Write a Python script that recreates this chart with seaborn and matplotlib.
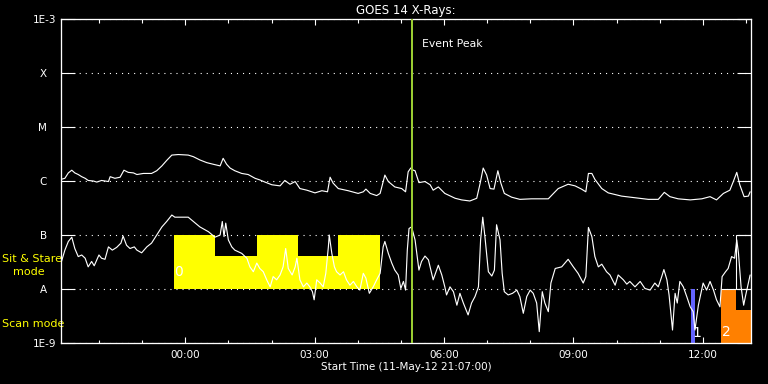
import numpy as np
import pandas as pd
import matplotlib
matplotlib.use("Agg")
import matplotlib.pyplot as plt
import seaborn as sns
from matplotlib.ticker import FixedLocator, NullLocator
from matplotlib.transforms import ScaledTranslation, blended_transform_factory

# ---------------- data ----------------
title = "GOES 14 X-Rays:"
xlabel = "Start Time (11-May-12 21:07:00)"
start_hour, start_minute = 21, 7
span_hours = 16.0

class_exponents = [-9, -8, -7, -6, -5, -4, -3]
class_labels = ["1E-9", "A", "B", "C", "M", "X", "1E-3"]

# long channel (upper curve): hours since start, log10 flux
long_t = [0.00, 0.09, 0.17, 0.25, 0.32, 0.40, 0.48, 0.56, 0.63, 0.75,
          0.83, 0.94, 1.10, 1.14, 1.25, 1.37, 1.46, 1.56, 1.68, 1.76,
          1.91, 2.10, 2.22, 2.34, 2.45, 2.57, 2.72, 2.95, 3.07, 3.22,
          3.38, 3.53, 3.69, 3.76, 3.84, 3.92, 4.03, 4.19, 4.34, 4.50,
          4.61, 4.73, 4.89, 5.08, 5.19, 5.31, 5.43, 5.54, 5.70, 5.89,
          6.05, 6.18, 6.24, 6.31, 6.43, 6.66, 6.89, 7.01, 7.07, 7.17,
          7.32, 7.40, 7.51, 7.59, 7.74, 7.90, 7.99, 8.05, 8.11, 8.17,
          8.21, 8.30, 8.44, 8.56, 8.63, 8.75, 8.90, 9.14, 9.29, 9.48,
          9.64, 9.72, 9.79, 9.87, 9.95, 10.04, 10.13, 10.20, 10.28, 10.45,
          10.64, 10.91, 11.11, 11.30, 11.42, 11.53, 11.76, 11.92, 12.07, 12.17,
          12.23, 12.31, 12.38, 12.54, 12.69, 13.00, 13.31, 13.62, 13.85, 13.99,
          14.12, 14.31, 14.59, 14.86, 15.05, 15.20, 15.36, 15.51, 15.59, 15.67,
          15.74, 15.84, 15.94, 15.98]
long_log = [-5.97, -5.95, -5.85, -5.80, -5.85, -5.88, -5.92, -5.95, -5.99, -6.00,
            -6.02, -5.99, -6.01, -5.92, -5.95, -5.93, -5.80, -5.84, -5.85, -5.88,
            -5.86, -5.86, -5.81, -5.72, -5.62, -5.52, -5.51, -5.52, -5.55, -5.61,
            -5.66, -5.69, -5.72, -5.58, -5.69, -5.76, -5.81, -5.86, -5.88, -5.95,
            -5.98, -6.02, -6.07, -6.09, -5.99, -6.06, -6.01, -6.14, -6.17, -6.22,
            -6.18, -6.20, -5.93, -6.04, -6.14, -6.18, -6.23, -6.20, -6.15, -6.23,
            -6.27, -6.23, -5.89, -6.01, -6.11, -6.14, -6.20, -5.83, -5.76, -5.80,
            -5.81, -6.03, -6.01, -6.07, -6.17, -6.11, -6.23, -6.32, -6.35, -6.37,
            -6.32, -6.04, -5.76, -5.89, -6.14, -6.15, -5.81, -6.04, -6.23, -6.30,
            -6.34, -6.33, -6.33, -6.33, -6.23, -6.14, -6.06, -6.09, -6.15, -6.20,
            -5.86, -5.86, -5.97, -6.14, -6.22, -6.28, -6.31, -6.34, -6.34, -6.21,
            -6.29, -6.33, -6.35, -6.33, -6.29, -6.35, -6.23, -6.17, -6.01, -5.84,
            -6.07, -6.29, -6.28, -6.20]

# short channel (lower curve)
short_t = [0.00, 0.09, 0.17, 0.25, 0.32, 0.40, 0.48, 0.56, 0.63, 0.71,
           0.77, 0.83, 0.88, 0.94, 1.02, 1.10, 1.19, 1.29, 1.39, 1.44,
           1.52, 1.60, 1.70, 1.76, 1.87, 1.99, 2.10, 2.22, 2.34, 2.45,
           2.57, 2.64, 2.95, 3.07, 3.22, 3.42, 3.57, 3.69, 3.74, 3.78,
           3.82, 3.88, 3.96, 4.03, 4.19, 4.31, 4.38, 4.46, 4.54, 4.61,
           4.69, 4.77, 4.85, 4.92, 5.00, 5.08, 5.15, 5.21, 5.27, 5.36,
           5.43, 5.47, 5.54, 5.62, 5.70, 5.77, 5.83, 5.87, 5.93, 6.01,
           6.08, 6.14, 6.20, 6.22, 6.28, 6.34, 6.39, 6.47, 6.55, 6.62,
           6.70, 6.78, 6.86, 6.93, 7.01, 7.07, 7.15, 7.24, 7.32, 7.40,
           7.47, 7.51, 7.59, 7.67, 7.74, 7.82, 7.88, 7.94, 7.99, 8.03,
           8.07, 8.13, 8.21, 8.30, 8.36, 8.44, 8.52, 8.63, 8.75, 8.83,
           8.90, 8.94, 9.02, 9.10, 9.18, 9.25, 9.33, 9.44, 9.52, 9.60,
           9.68, 9.73, 9.78, 9.83, 9.91, 9.99, 10.05, 10.10, 10.18, 10.23,
           10.28, 10.37, 10.47, 10.57, 10.64, 10.72, 10.80, 10.88, 10.95, 11.03,
           11.09, 11.16, 11.22, 11.30, 11.36, 11.46, 11.61, 11.76, 11.88, 11.99,
           12.11, 12.17, 12.23, 12.31, 12.38, 12.46, 12.54, 12.65, 12.73, 12.85,
           12.92, 13.04, 13.12, 13.19, 13.31, 13.43, 13.54, 13.66, 13.77, 13.85,
           13.93, 13.98, 14.05, 14.10, 14.18, 14.24, 14.29, 14.35, 14.43, 14.51,
           14.59, 14.66, 14.70, 14.78, 14.84, 14.89, 14.97, 15.05, 15.13, 15.20,
           15.28, 15.33, 15.41, 15.47, 15.55, 15.62, 15.67, 15.71, 15.77, 15.83,
           15.87, 15.94, 15.98]
short_log = [-7.52, -7.28, -7.12, -7.04, -7.25, -7.40, -7.37, -7.43, -7.59, -7.49,
             -7.57, -7.46, -7.37, -7.43, -7.45, -7.22, -7.28, -7.23, -7.15, -7.02,
             -7.19, -7.25, -7.22, -7.28, -7.33, -7.22, -7.15, -7.00, -6.85, -6.75,
             -6.63, -6.67, -6.67, -6.75, -6.85, -6.94, -7.04, -7.00, -6.75, -7.03,
             -6.78, -7.09, -7.22, -7.28, -7.34, -7.43, -7.59, -7.68, -7.52, -7.62,
             -7.68, -7.83, -7.96, -7.77, -7.83, -7.74, -7.59, -7.25, -7.62, -7.74,
             -7.59, -7.43, -7.83, -7.96, -7.89, -7.96, -8.05, -8.20, -7.83, -7.89,
             -7.96, -7.71, -7.22, -7.00, -7.34, -7.59, -7.68, -7.74, -7.68, -7.83,
             -7.93, -7.86, -7.96, -8.02, -7.71, -7.80, -8.08, -7.96, -7.83, -7.71,
             -7.22, -7.12, -7.34, -7.52, -7.65, -7.74, -7.99, -7.86, -8.02, -7.28,
             -6.88, -6.85, -7.09, -7.65, -7.49, -7.39, -7.46, -7.83, -7.56, -7.74,
             -7.96, -8.11, -7.96, -8.05, -8.30, -8.08, -8.26, -8.48, -8.26, -8.14,
             -7.96, -7.09, -6.67, -7.03, -7.68, -7.76, -7.65, -6.81, -7.09, -7.71,
             -8.05, -8.11, -8.08, -8.02, -8.14, -8.45, -8.14, -8.02, -8.08, -8.26,
             -8.79, -8.05, -8.26, -8.42, -7.89, -7.62, -7.59, -7.45, -7.59, -7.71,
             -7.89, -7.77, -6.86, -7.03, -7.40, -7.59, -7.54, -7.68, -7.74, -7.93,
             -7.74, -7.83, -7.91, -7.86, -7.96, -7.86, -7.99, -8.02, -7.89, -7.96,
             -7.77, -7.64, -7.83, -8.11, -8.76, -8.08, -8.26, -7.86, -7.96, -8.14,
             -8.33, -8.42, -8.76, -8.30, -8.08, -7.89, -8.02, -7.86, -8.02, -8.20,
             -8.33, -7.77, -7.68, -7.62, -7.40, -7.43, -7.09, -7.34, -7.96, -8.30,
             -8.14, -7.89, -7.74]

# observing-mode blocks (hours since start, log10 level)
sit_start = [2.62, 3.57, 4.54, 5.50, 6.42]
sit_end = [3.57, 4.54, 5.50, 6.42, 7.40]
sit_top = [-7.0, -7.38, -7.0, -7.38, -7.0]
sit_floor = -8.0

scan1_start = [14.60]
scan1_end = [14.70]
scan1_top = [-8.0]

scan2_start = [15.30, 15.65]
scan2_end = [15.65, 16.00]
scan2_top = [-8.0, -8.39]
scan_floor = -9.0

outline_start = [15.30, 15.65]
outline_end = [15.65, 16.00]
outline_top = [-8.0, -7.0]

block_labels = ["0", "1", "2"]
block_label_t = [2.62, 14.64, 15.32]
block_label_log = [-7.68, -8.95, -8.93]

event_peak_t = 8.13
event_label = "Event Peak"

# ---------------- style ----------------
sns.set_theme(style="dark")
plt.rcParams.update({
    "figure.facecolor": "black",
    "axes.facecolor": "black",
    "savefig.facecolor": "black",
    "axes.edgecolor": "white",
    "text.color": "white",
    "axes.labelcolor": "white",
    "xtick.color": "white",
    "ytick.color": "white",
    "font.family": ["DejaVu Sans"],
    "font.size": 7.5,
})

fig = plt.figure(figsize=(7.68, 3.84), dpi=100)
ax = fig.add_axes([61 / 768, 1 - 343 / 384, 690 / 768, 324 / 384])
ax.set_yscale("log")

px = 0.72  # one pixel in points

# mode blocks
ax.bar(sit_start, 10 ** np.array(sit_top) - 10 ** sit_floor,
       width=np.array(sit_end) - np.array(sit_start), bottom=10 ** sit_floor,
       align="edge", color="#ffff00", linewidth=0, zorder=1)
ax.bar(scan1_start, 10 ** np.array(scan1_top) - 10 ** scan_floor,
       width=np.array(scan1_end) - np.array(scan1_start), bottom=10 ** scan_floor,
       align="edge", color="#6464ff", linewidth=0, zorder=1)
ax.bar(scan2_start, 10 ** np.array(scan2_top) - 10 ** scan_floor,
       width=np.array(scan2_end) - np.array(scan2_start), bottom=10 ** scan_floor,
       align="edge", color="#ff8000", linewidth=0, zorder=1)
ax.bar(outline_start, 10 ** np.array(outline_top) - 10 ** sit_floor,
       width=np.array(outline_end) - np.array(outline_start), bottom=10 ** sit_floor,
       align="edge", fill=False, edgecolor="white", linewidth=1.1 * px, zorder=3)

# curves
df_long = pd.DataFrame({"hours": long_t, "flux": 10 ** np.array(long_log)})
df_short = pd.DataFrame({"hours": short_t, "flux": 10 ** np.array(short_log)})
sns.lineplot(data=df_long, x="hours", y="flux", ax=ax, color="white",
             linewidth=1.15 * px, estimator=None, sort=False, zorder=4)
sns.lineplot(data=df_short, x="hours", y="flux", ax=ax, color="white",
             linewidth=1.15 * px, estimator=None, sort=False, zorder=4)

# event peak
ax.axvline(event_peak_t, color="#9acd32", linewidth=2 * px, zorder=5)
ax.annotate(event_label, xy=(event_peak_t, 1), xycoords=("data", "axes fraction"),
            xytext=(10 * px, -28 * px), textcoords="offset points",
            ha="left", va="baseline", color="white", fontsize=7.8)

# block labels
for lab, t, lv in zip(block_labels, block_label_t, block_label_log):
    ax.text(t, 10 ** lv, lab, color="white", fontsize=10, ha="left",
            va="center" if lab == "0" else "bottom", zorder=6)

# axes limits
ax.set_xlim(0, span_hours)
ax.set_ylim(10.0 ** class_exponents[0], 10.0 ** class_exponents[-1])

# y ticks
ax.yaxis.set_major_locator(FixedLocator([10.0 ** e for e in class_exponents]))
ax.yaxis.set_minor_locator(NullLocator())
ax.set_yticklabels(class_labels)
ax.tick_params(axis="y", which="major", direction="in", length=14 * px,
               width=1.1 * px, left=True, right=True, pad=5 * px, labelsize=7.5)
shift = ScaledTranslation(-9 / 100, 0, fig.dpi_scale_trans)
for lab in ax.get_yticklabels():
    if len(lab.get_text()) == 1:
        lab.set_transform(lab.get_transform() + shift)

# x ticks: hourly minor, 3-hourly major labelled
first_hour = (60 - start_minute) / 60.0
hour_pos = [first_hour + k for k in range(int(span_hours)) if first_hour + k < span_hours]
hour_val = [(start_hour + 1 + k) % 24 for k in range(len(hour_pos))]
major_pos = [p for p, h in zip(hour_pos, hour_val) if h % 3 == 0]
major_lab = [f"{h:02d}:00" for h in hour_val if h % 3 == 0]
minor_pos = [p for p, h in zip(hour_pos, hour_val) if h % 3 != 0]
ax.xaxis.set_major_locator(FixedLocator(major_pos))
ax.set_xticklabels(major_lab)
ax.xaxis.set_minor_locator(FixedLocator(minor_pos))
ax.tick_params(axis="x", which="major", direction="in", length=6 * px,
               width=1.1 * px, top=True, bottom=True, pad=7 * px, labelsize=7.5)
ax.tick_params(axis="x", which="minor", direction="in", length=3.5 * px,
               width=1.1 * px, top=True, bottom=True)

# dotted class grid
ax.grid(False)
ax.yaxis.grid(True, which="major", color="white", linewidth=1.1 * px,
              linestyle=(0, (1, 4.5)))
ax.set_axisbelow(True)

for s in ax.spines.values():
    s.set_color("white")
    s.set_linewidth(1.3 * px)
    s.set_visible(True)

ax.set_title(title, color="white", fontsize=8.5, pad=5 * px)
ax.set_xlabel(xlabel, color="white", fontsize=7.5, labelpad=2 * px)
ax.set_ylabel("")

# mode labels on the left
tr = blended_transform_factory(fig.transFigure, ax.transData)
ax.text(2 / 768, 10 ** -7.44, "Sit & Stare", transform=tr, color="#ffff00",
        fontsize=8, ha="left", va="center", clip_on=False, zorder=2)
ax.text(13 / 768, 10 ** -7.68, "mode", transform=tr, color="#ffff00",
        fontsize=8, ha="left", va="center", clip_on=False, zorder=2)
ax.text(2 / 768, 10 ** -8.65, "Scan mode", transform=tr, color="#ffff00",
        fontsize=8, ha="left", va="center", clip_on=False, zorder=2)

fig.savefig("out.png", dpi=100, facecolor="black")
